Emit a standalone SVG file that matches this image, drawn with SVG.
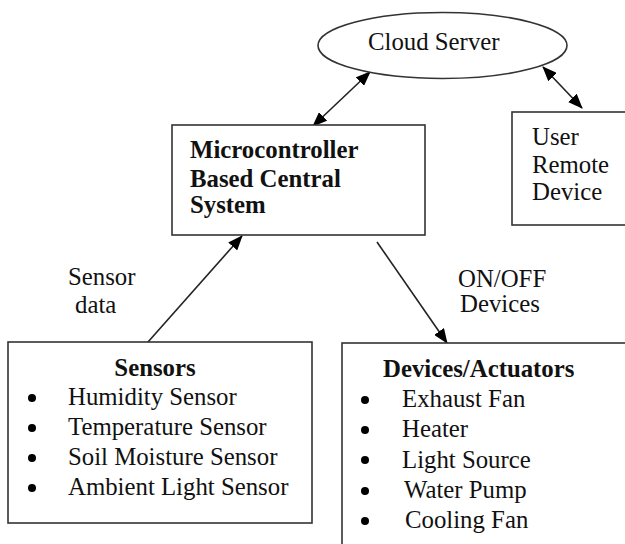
<svg xmlns="http://www.w3.org/2000/svg" width="625" height="544" viewBox="0 0 625 544">
<style>
.t{font-family:"Liberation Serif","Times New Roman","DejaVu Serif",serif;font-size:24.8px;fill:#111}
.b{font-weight:bold}
.box{fill:#fff;stroke:#333;stroke-width:1.6}
.c{stroke:#222;stroke-width:1.6;fill:none}
.dot{fill:#000}
</style>
<defs>
<marker id="ah" markerUnits="userSpaceOnUse" markerWidth="15" markerHeight="12" refX="14" refY="6" orient="auto-start-reverse">
<path d="M0,0 L15,6 L0,12 z" fill="#000"/>
</marker>
</defs>
<rect width="625" height="544" fill="#fff"/>
<g id="connectors">
<line class="c" x1="370" y1="72" x2="313" y2="126" marker-start="url(#ah)" marker-end="url(#ah)"/>
<line class="c" x1="543" y1="67" x2="582" y2="108" marker-start="url(#ah)" marker-end="url(#ah)"/>
<line class="c" x1="148" y1="342" x2="242" y2="236" marker-end="url(#ah)"/>
<line class="c" x1="377" y1="242" x2="447" y2="343" marker-end="url(#ah)"/>
<text class="t" x="68" y="285">Sensor</text>
<text class="t" x="75" y="313">data</text>
<text class="t" x="458" y="287">ON/OFF</text>
<text class="t" x="460" y="312">Devices</text>
</g>
<g id="cloud">
<ellipse class="box" cx="442.5" cy="45.5" rx="124.5" ry="33"/>
<text class="t" x="368" y="50">Cloud Server</text>
</g>
<g id="micro">
<rect class="box" x="172" y="125" width="253" height="110"/>
<text class="t b" x="190" y="158">Microcontroller</text>
<text class="t b" x="190" y="187">Based Central</text>
<text class="t b" x="190" y="213">System</text>
</g>
<g id="user">
<rect class="box" x="512" y="112" width="130" height="113"/>
<text class="t" x="532" y="145">User</text>
<text class="t" x="532" y="173">Remote</text>
<text class="t" x="532" y="200">Device</text>
</g>
<g id="sensors">
<rect class="box" x="8" y="342" width="304" height="181"/>
<text class="t b" x="155" y="376" text-anchor="middle">Sensors</text>
<circle class="dot" cx="32" cy="398" r="4"/>
<circle class="dot" cx="32" cy="428" r="4"/>
<circle class="dot" cx="32" cy="458" r="4"/>
<circle class="dot" cx="32" cy="488" r="4"/>
<text class="t" x="68" y="405">Humidity Sensor</text>
<text class="t" x="68" y="435">Temperature Sensor</text>
<text class="t" x="68" y="465">Soil Moisture Sensor</text>
<text class="t" x="68" y="495">Ambient Light Sensor</text>
</g>
<g id="devices">
<rect class="box" x="342" y="343" width="300" height="220"/>
<text class="t b" x="383" y="377">Devices/Actuators</text>
<circle class="dot" cx="365" cy="400" r="4"/>
<circle class="dot" cx="365" cy="430" r="4"/>
<circle class="dot" cx="365" cy="460" r="4"/>
<circle class="dot" cx="365" cy="491" r="4"/>
<circle class="dot" cx="365" cy="521" r="4"/>
<text class="t" x="402" y="407">Exhaust Fan</text>
<text class="t" x="402" y="437">Heater</text>
<text class="t" x="402" y="468">Light Source</text>
<text class="t" x="404" y="498">Water Pump</text>
<text class="t" x="405" y="528">Cooling Fan</text>
</g>
</svg>
